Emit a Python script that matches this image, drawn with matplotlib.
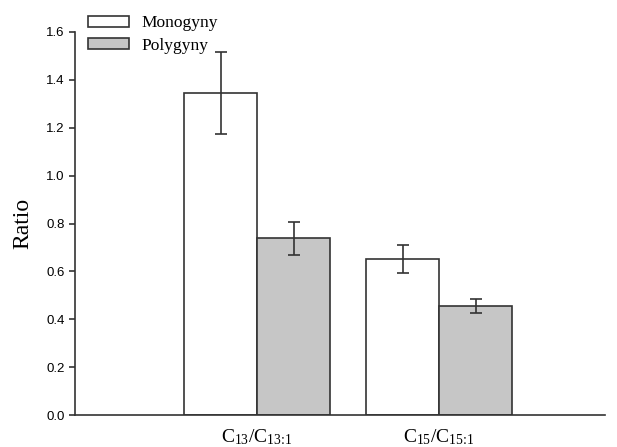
import numpy as np
import matplotlib
matplotlib.use('Agg')
import matplotlib.pyplot as plt
from matplotlib.patches import Patch

# data
groups = [r'C$_{13}$/C$_{13\!:\!1}$', r'C$_{15}$/C$_{15\!:\!1}$']
mono = [1.345, 0.652]
mono_err = [0.17, 0.06]
poly = [0.738, 0.455]
poly_err = [0.07, 0.028]
yticks = [0.0, 0.2, 0.4, 0.6, 0.8, 1.0, 1.2, 1.4, 1.6]

plt.rcParams['mathtext.fontset'] = 'custom'
plt.rcParams['mathtext.rm'] = 'Liberation Serif'
plt.rcParams['mathtext.it'] = 'Liberation Serif'

edge = '#333333'
fig = plt.figure(figsize=(6.17, 4.47), dpi=100)
ax = fig.add_axes([75/617, 32/447, 530/617, 383/447])

x = np.arange(len(groups))
w = 0.40
err_kw = dict(ecolor=edge, elinewidth=1.2, capsize=4.5, capthick=1.2)
ax.bar(x - w/2, mono, w, yerr=mono_err, color='white', edgecolor=edge,
       linewidth=1.2, error_kw=err_kw)
ax.bar(x + w/2, poly, w, yerr=poly_err, color='#c6c6c6', edgecolor=edge,
       linewidth=1.2, error_kw=err_kw)

ax.set_xlim(-1.0, 1.91)
ax.set_ylim(0, 1.6)
ax.set_yticks(yticks)
ax.set_yticklabels([f'{v:.1f}' for v in yticks], family='Liberation Sans', fontsize=9.5)
ax.set_xticks(x)
ax.set_xticklabels(groups, family='Liberation Serif', fontsize=14)
ax.tick_params(axis='x', length=0, pad=9)
ax.tick_params(axis='y', direction='out', length=4, width=1.2, color=edge)
for s in ['top', 'right']:
    ax.spines[s].set_visible(False)
for s in ['left', 'bottom']:
    ax.spines[s].set_linewidth(1.2)
    ax.spines[s].set_color(edge)

ax.set_ylabel('Ratio', family='Liberation Serif', fontsize=17, labelpad=9)

handles = [Patch(facecolor='white', edgecolor=edge, linewidth=1.2),
           Patch(facecolor='#c6c6c6', edgecolor=edge, linewidth=1.2)]
fig.legend(handles, ['Monogyny', 'Polygyny'], loc='upper left',
           bbox_to_anchor=(76/617, 1 - 3/447), frameon=False,
           prop={'family': 'Liberation Serif', 'size': 12.5},
           handlelength=2.35, handleheight=0.6, handletextpad=0.7,
           labelspacing=0.4, borderpad=0.2)

fig.savefig('out.png', dpi=100)
